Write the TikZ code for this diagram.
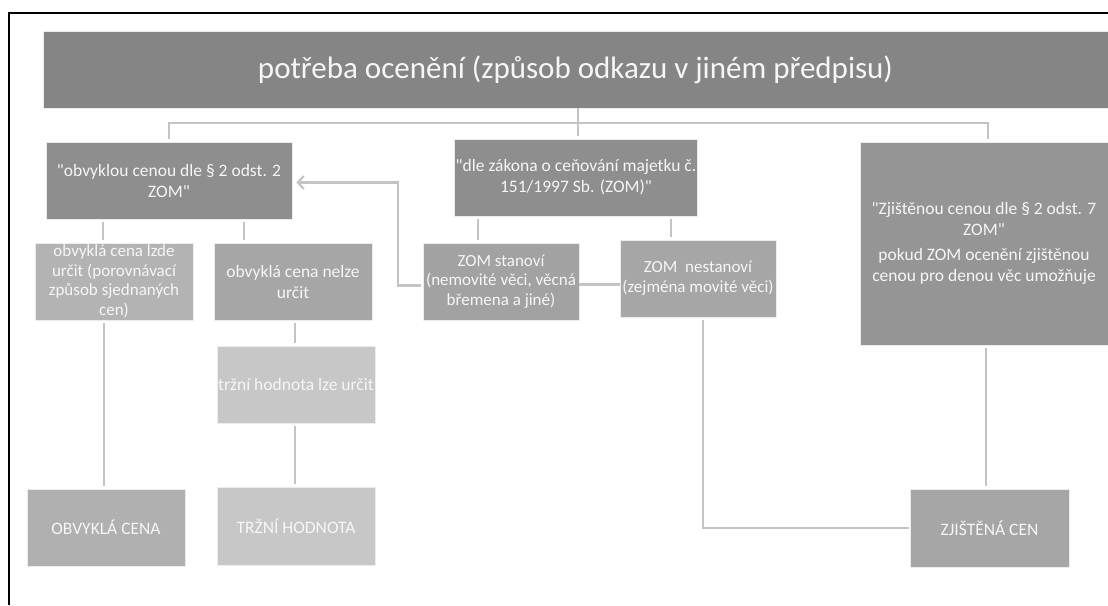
\documentclass[tikz,border=0pt]{standalone}
\usepackage{fontspec}
\setmainfont{Carlito}[Ligatures=TeXOff]
\usetikzlibrary{arrows.meta}
\definecolor{ctitle}{HTML}{858585}
\definecolor{cmid}{HTML}{8E8E8E}
\definecolor{cright}{HTML}{959595}
\definecolor{clA}{HTML}{B3B3B3}
\definecolor{clB}{HTML}{A6A6A6}
\definecolor{clC}{HTML}{A2A2A2}
\definecolor{clD}{HTML}{C7C7C7}
\definecolor{clE}{HTML}{B0B0B0}
\definecolor{cline}{HTML}{C4C4C4}
\definecolor{ctext}{HTML}{F6F6F6}
\tikzset{
  box/.style={draw=white!85!gray, line width=0.6pt, text=ctext, align=center, inner sep=1pt, font=\fontsize{17.5}{21}\selectfont},
  conn/.style={draw=cline, line width=2.2pt, shorten <=3pt, shorten >=3pt},
}
\begin{document}
\begin{tikzpicture}[x=1pt,y=-1pt]
\useasboundingbox (0,0) rectangle (1108,605);
\fill[white] (0,0) rectangle (1108,605);
% frame
\draw[black, line width=2.6pt] (1108,13) -- (9,13) -- (9,605);
% nodes
\node[box, fill=ctitle, minimum width=1065pt, minimum height=77pt, font=\fontsize{31}{36}\selectfont] (T) at (575.5,69.5) {potřeba ocenění (způsob odkazu v jiném předpisu)};
\node[box, fill=cmid, minimum width=246pt, minimum height=77pt] (A) at (169,180.5) {"obvyklou cenou dle § 2 odst. 2\\ZOM"};
\node[box, fill=cmid, minimum width=242pt, minimum height=77pt] (B) at (576,177.5) {"dle zákona o ceňování majetku č.\\151/1997 Sb. (ZOM)"};
\node[box, fill=cright, minimum width=248pt, minimum height=203pt] (C) at (984,243.5) {"Zjištěnou cenou dle § 2 odst. 7\\ZOM"\\[4pt]pokud ZOM ocenění zjištěnou\\cenou pro denou věc umožňuje};
\node[box, fill=clA, minimum width=158pt, minimum height=77pt, font=\fontsize{17}{19.5}\selectfont] (A1) at (114,281.5) {obvyklá cena lzde\\určit (porovnávací\\způsob sjednaných\\cen)};
\node[box, fill=clB, minimum width=158pt, minimum height=77pt] (A2) at (293,281.5) {obvyklá cena nelze\\určit};
\node[box, fill=clD, minimum width=158pt, minimum height=77pt] (T1) at (296,384.5) {tržní hodnota lze určit};
\node[box, fill=clD, minimum width=158pt, minimum height=78pt] (T2) at (296,526) {TRŽNÍ HODNOTA};
\node[box, fill=clE, minimum width=158pt, minimum height=77pt] (OC) at (106,527.5) {OBVYKLÁ CENA};
\node[box, fill=clC, minimum width=156pt, minimum height=77pt, font=\fontsize{17}{19.5}\selectfont] (B1) at (501,281.5) {ZOM stanoví\\(nemovité věci, věcná\\břemena a jiné)};
\node[box, fill=clB, minimum width=156pt, minimum height=77pt, font=\fontsize{17}{20}\selectfont] (B2) at (698,278.5) {ZOM\ \ nestanoví\\(zejména movité věci)};
\node[box, fill=clB, minimum width=159pt, minimum height=78pt] (ZC) at (989.5,528) {ZJIŠTĚNÁ CEN};
% connectors
\draw[conn, shorten <=0pt] ([xshift=2.5pt]T.south) -- ([xshift=2.5pt]T.south |- B.north);
\draw[conn, shorten <=3pt] (A.north) -- ++(0,-19) -| ([xshift=4pt]C.north);
\draw[conn] ([xshift=-11pt]A1.north) -- ([xshift=-11pt]A1.north |- A.south);
\draw[conn] ([xshift=-49pt]A2.north) -- ([xshift=-49pt]A2.north |- A.south);
\draw[conn] ([xshift=-2pt]OC.north) -- ([xshift=-2pt]OC.north |- A1.south);
\draw[conn] ([xshift=-1pt]T1.north) -- ([xshift=-1pt]T1.north |- A2.south);
\draw[conn] ([xshift=-1pt]T2.north) -- ([xshift=-1pt]T2.north |- T1.south);
\draw[conn] ([xshift=-23pt]B1.north) -- ([xshift=-23pt]B1.north |- B.south);
\draw[conn] ([xshift=-27pt]B2.north) -- ([xshift=-27pt]B2.north |- B.south);
\draw[conn, shorten <=0pt, shorten >=0pt] ([yshift=-3pt]B1.east) -- ([yshift=-3pt]B1.east -| B2.west);
\draw[conn, shorten <=2pt, shorten >=4pt, -{Straight Barb[length=6pt,width=13pt]}] ([yshift=-4pt]B1.west) -- ++(-25,0) |- ([yshift=-2pt]A.east);
\draw[conn, shorten >=1pt] ([xshift=5pt]B2.south) |- (ZC.west);
\draw[conn] ([xshift=2pt]C.south) -- ([xshift=2pt]C.south |- ZC.north);
\end{tikzpicture}
\end{document}
